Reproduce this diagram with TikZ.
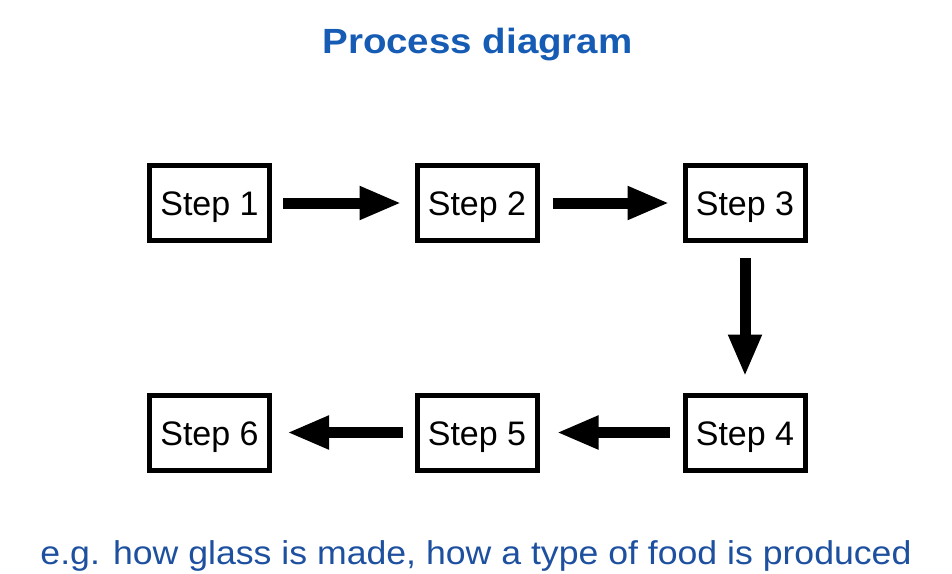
\documentclass[tikz,border=0pt]{standalone}
\usepackage{fontspec}
\setmainfont{Liberation Sans}
\usetikzlibrary{arrows.meta}
\definecolor{titleblue}{RGB}{22,92,180}
\definecolor{noteblue}{RGB}{30,80,160}
\tikzset{
  stepbox/.style={draw=black, line width=5pt, outer sep=2.5pt, minimum width=120pt, minimum height=75pt, inner sep=0pt, text height=25pt, text depth=0pt, font=\fontsize{34}{40}\selectfont},
  flow/.style={line width=11pt, -{Triangle[length=42pt,width=31pt]}}
}
\begin{document}
\begin{tikzpicture}[x=1pt,y=-1pt]
\useasboundingbox[fill=white] (0,0) rectangle (952,573);
\node[anchor=base, text=titleblue, xscale=1.1, font=\fontsize{35}{40}\selectfont\bfseries] (title) at (477.5,53) {Process diagram};
\node[stepbox] (s1) at (209.5,203) {Step 1};
\node[stepbox] (s2) at (477,203) {Step 2};
\node[stepbox] (s3) at (745,203) {Step 3};
\node[stepbox] (s4) at (745,432.5) {Step 4};
\node[stepbox] (s5) at (477,432.5) {Step 5};
\node[stepbox] (s6) at (209.5,432.5) {Step 6};
\draw[flow, shorten <=11pt, shorten >=13pt] (s1.east) -- (s2.west);
\draw[flow, shorten <=13pt, shorten >=13pt] (s2.east) -- (s3.west);
\draw[flow, shorten <=15pt, shorten >=16pt] (s3.south) -- (s4.north);
\draw[flow, shorten <=13pt, shorten >=17pt] (s4.west) -- (s5.east);
\draw[flow, shorten <=12pt, shorten >=15pt] (s5.west) -- (s6.east);
\node[anchor=base, text=noteblue, xscale=1.08, font=\fontsize{33}{38}\selectfont] (note) at (476,564) {e.g. how glass is made, how a type of food is produced};
\end{tikzpicture}
\end{document}
